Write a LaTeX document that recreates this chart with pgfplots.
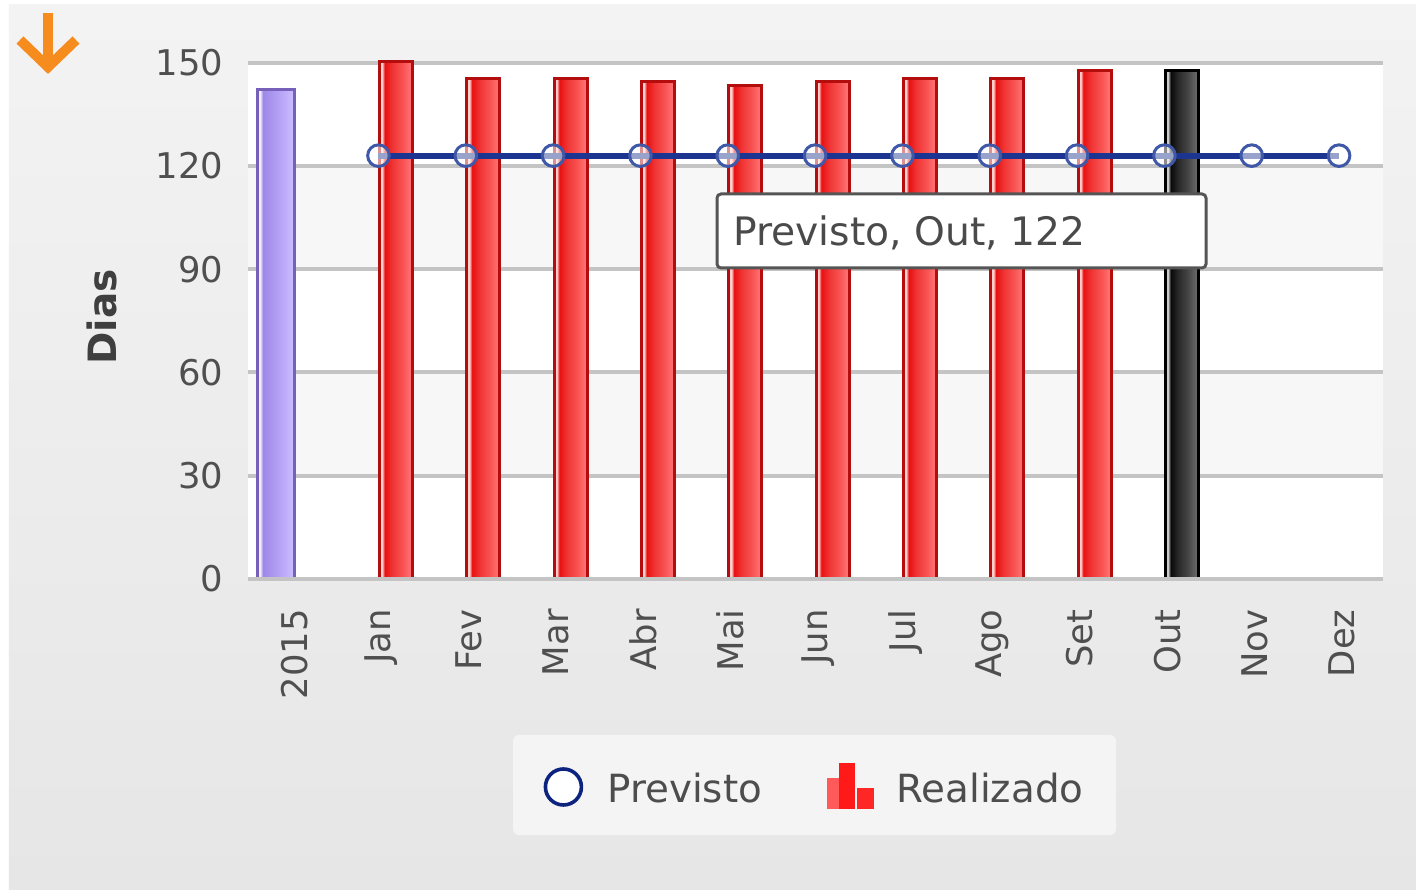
\documentclass[border=0pt]{standalone}
\usepackage{fontspec}
\setmainfont{DejaVu Sans}
\usepackage{pgfplots}
\pgfplotsset{compat=1.18}
\definecolor{bgtop}{HTML}{F3F3F3}
\definecolor{bgbot}{HTML}{E6E6E6}
\definecolor{band}{HTML}{F7F7F7}
\definecolor{gridgray}{HTML}{C4C4C4}
\definecolor{ticktext}{HTML}{4F4F4F}
\definecolor{labeltext}{HTML}{3F3F3F}
\definecolor{legtext}{HTML}{4D4D4D}
\definecolor{legbox}{HTML}{F4F4F4}
\definecolor{navy}{HTML}{1B3590}
\definecolor{circ}{HTML}{4058A8}
\definecolor{legcirc}{HTML}{0C2380}
\definecolor{tipborder}{HTML}{555555}
\definecolor{tiptext}{HTML}{4A4A4A}
\definecolor{arrow}{HTML}{F68B1E}
% red bars
\definecolor{redborder}{HTML}{B30D0D}
\definecolor{rs1}{HTML}{FFD0D0}
\definecolor{rs2}{HTML}{E81010}
\definecolor{rs3}{HTML}{F03535}
\definecolor{rs4}{HTML}{F85252}
\definecolor{rs5}{HTML}{FF7070}
% purple bar
\definecolor{purpborder}{HTML}{7760B9}
\definecolor{ps1}{HTML}{F2EEFF}
\definecolor{ps2}{HTML}{9F88E8}
\definecolor{ps3}{HTML}{AA96EF}
\definecolor{ps4}{HTML}{BBA9F8}
\definecolor{ps5}{HTML}{C9B9FF}
% black bar
\definecolor{ks1}{HTML}{CCCCCC}
\definecolor{ks2}{HTML}{0A0A0A}
\definecolor{ks3}{HTML}{2A2A2A}
\definecolor{ks4}{HTML}{484848}
\definecolor{ks5}{HTML}{686868}
\pgfdeclarehorizontalshading{redbar}{100bp}{color(0bp)=(rs1); color(25bp)=(rs1); color(29bp)=(rs1); color(33bp)=(rs2); color(45bp)=(rs3); color(60bp)=(rs4); color(72bp)=(rs5); color(100bp)=(rs5)}
\pgfdeclarehorizontalshading{purpbar}{100bp}{color(0bp)=(ps1); color(25bp)=(ps1); color(29bp)=(ps1); color(33bp)=(ps2); color(45bp)=(ps3); color(60bp)=(ps4); color(72bp)=(ps5); color(100bp)=(ps5)}
\pgfdeclarehorizontalshading{blackbar}{100bp}{color(0bp)=(ks1); color(25bp)=(ks1); color(29bp)=(ks1); color(33bp)=(ks2); color(45bp)=(ks3); color(60bp)=(ks4); color(72bp)=(ks5); color(100bp)=(ks5)}
\pgfplotsset{
  realbar/.style={ybar, bar width=16.5pt, bar shift=8.74pt, draw=redborder, line width=1.5pt, shade, shading=redbar, forget plot},
}
\begin{document}
\begin{tikzpicture}
\begin{scope}[x=0.5pt, y=-0.5pt, shift={(-123.75pt,289.5pt)}]
  \useasboundingbox (0,0) rectangle (1416,889);
  \fill[white] (0,0) rectangle (1416,889);
  \shade[top color=bgtop, bottom color=bgbot] (9,5) rectangle (1416,889);
  % plot area with alternating bands
  \fill[white] (247.5,62.7) rectangle (1382.7,579);
  \fill[band] (247.5,166.0) rectangle (1382.7,269.2);
  \fill[band] (247.5,372.5) rectangle (1382.7,475.7);
  % legend box
  \fill[legbox, rounded corners=3pt] (513,735) rectangle (1116,835);
  % arrow
  \draw[arrow, line width=5pt] (48,13) -- (48,60);
  \draw[arrow, line width=5pt, line join=miter] (20,40) -- (48,67) -- (76,40);
\end{scope}
\begin{axis}[
  at={(0pt,0pt)}, anchor=south west,
  scale only axis, width=567.6pt, height=258.15pt,
  xmin=-0.5, xmax=12.5, ymin=0, ymax=150,
  axis line style={draw=none},
  ymajorgrids, grid style={draw=gridgray, line width=2pt},
  ytick={0,30,60,90,120,150},
  xtick={0,1,2,3,4,5,6,7,8,9,10,11,12},
  xticklabels={2015,Jan,Fev,Mar,Abr,Mai,Jun,Jul,Ago,Set,Out,Nov,Dez},
  major tick length=0pt,
  tick style={draw=none},
  /pgf/number format/assume math mode=true,
  ticklabel style={font=\fontsize{17.7}{20}\selectfont, text=ticktext},
  xticklabel style={xshift=1.5pt, rotate=90, anchor=east, inner xsep=15pt, inner ysep=0pt},
  yticklabel style={anchor=east, inner xsep=0pt, xshift=-12pt},
  ylabel={Dias},
  every axis y label/.style={at={(axis description cs:-0.1282,0.5075)}, rotate=90, anchor=center, font=\bfseries\fontsize{19.5}{22}\selectfont, text=labeltext},
  clip=false,
  legend columns=2,
  legend style={at={(0.2339,-0.4067)}, anchor=west, draw=none, fill=none, inner sep=0pt,
    nodes={inner sep=0pt, text=legtext, font=\fontsize{19.4}{22}\selectfont},
    /tikz/every even column/.append style={column sep=32.5pt}},
]
\addplot[ybar, bar width=18.5pt, bar shift=-7.8pt, draw=purpborder, line width=1.5pt, shade, shading=purpbar, forget plot]
  coordinates {(0,142.1)};
\addplot[realbar] coordinates {(1,150.3)};
\addplot[realbar] coordinates {(2,145.4)};
\addplot[realbar] coordinates {(3,145.4)};
\addplot[realbar] coordinates {(4,144.5)};
\addplot[realbar] coordinates {(5,143.3)};
\addplot[realbar] coordinates {(6,144.5)};
\addplot[realbar] coordinates {(7,145.4)};
\addplot[realbar] coordinates {(8,145.4)};
\addplot[realbar] coordinates {(9,147.7)};
\addplot[ybar, bar width=16.5pt, bar shift=8.74pt, draw=black, line width=1.5pt, shade, shading=blackbar, forget plot]
  coordinates {(10,147.7)};
\draw[gridgray, line width=2pt] (axis cs:-0.5,0) -- (axis cs:12.5,0);
\addplot[navy, line width=3pt, mark=*, mark size=5.4pt,
  mark options={draw=circ, line width=1.5pt, fill=white, fill opacity=0.55},
  legend image code/.code={
    \path[draw=none, fill=none] (0pt,-25pt) rectangle (47pt,25pt);
    \draw[draw=legcirc, line width=1.8pt, fill=white, fill opacity=1] (25pt,1pt) circle[radius=9pt];
  }]
  coordinates {(1,123.0) (2,123.0) (3,123.0) (4,123.0) (5,123.0) (6,123.0) (7,123.0) (8,123.0) (9,123.0) (10,123.0) (11,123.0) (12,123.0)};
\addlegendentry{Previsto}
\addlegendimage{legend image code/.code={
    \path[draw=none, fill=none] (0pt,-25pt) rectangle (34.5pt,25pt);
    \fill[red!65!white] (0pt,-9.5pt) rectangle (6pt,5.5pt);
    \fill[red!90!white] (6pt,-9.5pt) rectangle (13.5pt,13pt);
    \fill[red!85!white] (15pt,-9.5pt) rectangle (23pt,0.5pt);
  }}
\addlegendentry{Realizado}
\end{axis}
\begin{scope}[x=0.5pt, y=-0.5pt, shift={(-123.75pt,289.5pt)}]
  \draw[tipborder, line width=1.5pt, fill=white, rounded corners=2pt] (717,194) rectangle (1206,268);
  \node[anchor=base west, inner sep=0pt, text=tiptext, font=\fontsize{19.6}{22}\selectfont] at (733,246) {Previsto, Out, 122};
\end{scope}
\end{tikzpicture}
\end{document}
